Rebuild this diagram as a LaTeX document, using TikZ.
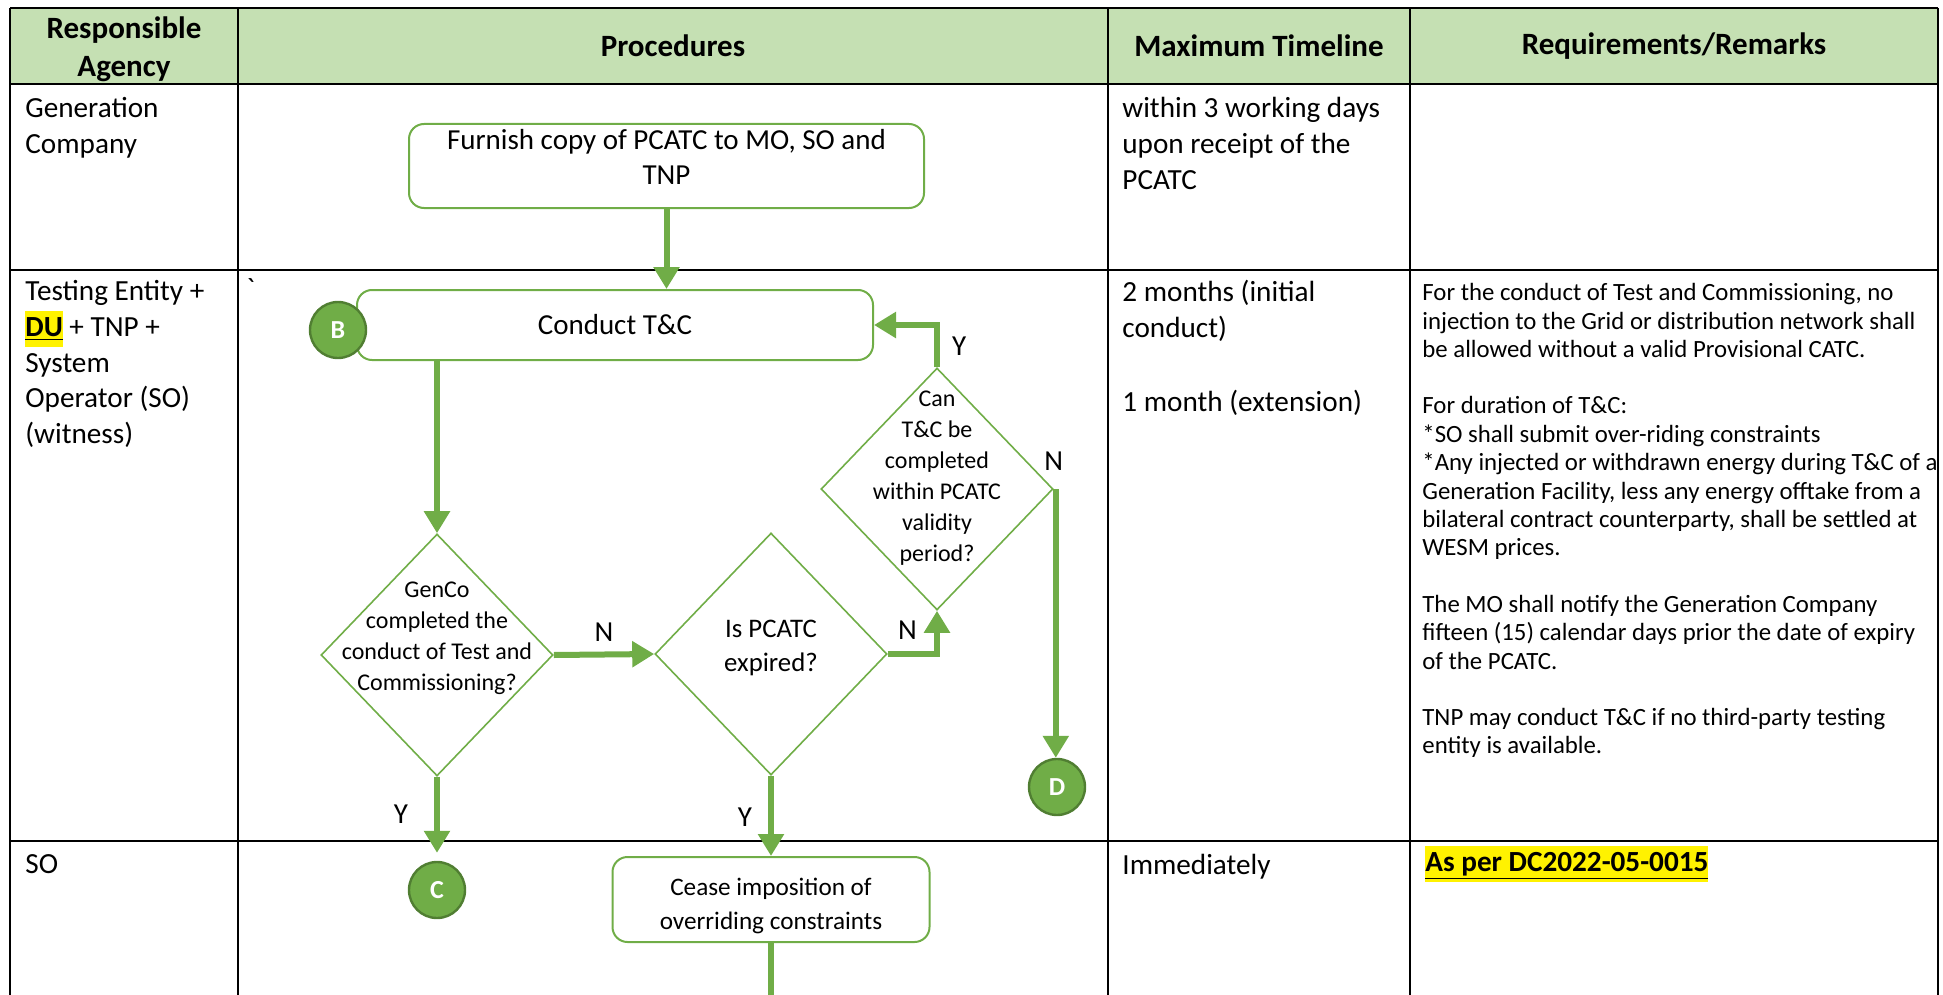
\documentclass[tikz,border=0pt]{standalone}
\usepackage{fontspec}
\setmainfont{Carlito}
\usetikzlibrary{arrows.meta,shapes.geometric,positioning}
\definecolor{vert}{HTML}{70AD47}
\definecolor{vertfonce}{HTML}{507E32}
\definecolor{vertclair}{HTML}{C5E0B3}
\newcommand{\surligne}[1]{{\setlength{\fboxsep}{0pt}\colorbox{yellow}{\strut#1}}}

\begin{document}
\begin{tikzpicture}[x=0.5pt,y=-0.5pt]
\tikzset{boite/.style={draw=vert, line width=1pt, rounded corners=7.5pt, inner sep=0pt, align=center, font=\fontsize{14.5}{17.5}\selectfont},
losange/.style={draw=vert, line width=0.8pt, diamond, inner sep=0pt, minimum width=116pt, minimum height=121pt},
ltexte/.style={inner sep=0pt, align=center, font=\fontsize{12}{15.5}\selectfont},
rond/.style={circle, fill=vert, draw=vertfonce, line width=1.2pt, minimum size=28pt, inner sep=0pt, text=white, font=\fontsize{13}{13}\selectfont\bfseries},
fleche/.style={draw=vert, line width=3pt, -{Triangle[width=12.5pt,length=11pt]}},
lettre/.style={inner sep=0pt, font=\fontsize{14.5}{17}\selectfont},
entete/.style={inner sep=0pt, align=center, font=\fontsize{15.5}{19}\selectfont\bfseries},
texte/.style={anchor=north west, inner sep=0pt, align=left, font=\fontsize{14.6}{17.9}\selectfont},
remarque/.style={anchor=north west, inner sep=0pt, align=left, font=\fontsize{12.4}{14.2}\selectfont}}
\useasboundingbox (0,0) rectangle (1943,995);
\fill[vertclair] (10,8) rectangle (1938,84);
\foreach \y in {8,84,270,841} \draw[line width=1.2pt] (10,\y) -- (1938,\y);
\foreach \x in {10,238,1108,1410,1938} \draw[line width=1.2pt] (\x,8) -- (\x,1000);
\node[entete] (h1) at (124,49) {Responsible\\Agency};
\node[entete] (h2) at (673,46) {Procedures};
\node[entete] (h3) at (1259,46) {Maximum Timeline};
\node[entete] (h4) at (1674,46) {Requirements/Remarks};
\node[texte] (ag1) at (25,97) {Generation\\Company};
\node[texte] (ag2) at (25,280) {Testing Entity +\\\surligne{\textbf{\underline{DU}}} + TNP +\\System\\Operator (SO)\\(witness)};
\node[texte] (ag3) at (25,854) {SO};
\node[texte] (accent) at (246,278) {\textasciigrave};
\node[texte] (delai1) at (1122,97) {within 3 working days\\upon receipt of the\\PCATC};
\node[texte] (delai2) at (1122,280) {2 months (initial\\conduct)\\[19pt]1 month (extension)};
\node[texte] (delai3) at (1122,854) {Immediately};
\node[remarque] (rem2) at (1422,283) {For the conduct of Test and Commissioning, no\\injection to the Grid or distribution network shall\\be allowed without a valid Provisional CATC.\\[14pt]For duration of T\&C:\\*SO shall submit over-riding constraints\\*Any injected or withdrawn energy during T\&C of a\\Generation Facility, less any energy offtake from a\\bilateral contract counterparty, shall be settled at\\WESM prices.\\[14pt]The MO shall notify the Generation Company\\fifteen (15) calendar days prior the date of expiry\\of the PCATC.\\[14pt]TNP may conduct T\&C if no third-party testing\\entity is available.};
\node[texte, font=\fontsize{14.6}{17.9}\selectfont] (rem3) at (1425,846) {\surligne{\textbf{\underline{As per DC2022-05-0015}}}};
\node[boite, minimum width=257.5pt, minimum height=42pt, text depth=9pt] (furnish) at (666.5,166) {Furnish copy of PCATC to MO, SO and\\TNP};
\node[boite, minimum width=258pt, minimum height=35pt] (conduct) at (615,325) {Conduct T\&C};
\node[rond] (brond) at (338,330) {B};
\node[losange] (d1) at (437,655) {};
\node[ltexte] (t1) at (437,638) {GenCo\\completed the\\conduct of Test and\\Commissioning?};
\node[losange] (d2) at (771,654) {};
\node[ltexte, font=\fontsize{13.4}{17}\selectfont] (t2) at (771,648) {Is PCATC\\expired?};
\node[losange] (d3) at (937,489) {};
\node[ltexte] (t3) at (937,478) {Can\\T\&C be\\completed\\within PCATC\\validity\\period?};
\node[rond] (crond) at (437,890) {C};
\node[rond] (drond) at (1057,787) {D};
\node[boite, minimum width=158.5pt, minimum height=42.5pt] (cease) at (771,899.5) {};
\node[ltexte, font=\fontsize{12.6}{17}\selectfont] (ceaset) at (771,906) {Cease imposition of\\overriding constraints};
\coordinate (sortie) at (771,1000);
\draw[fleche] (furnish.south) -- (furnish.south |- conduct.north);
\draw[fleche] (conduct.south -| d1.north) -- (d1.north);
\draw[fleche] (d1.east) -- node[lettre, above=5pt] (n1) {N} (d2.west);
\draw[fleche] (d2.east) -| node[lettre, pos=0.2, above=6pt] (n2) {N} (d3.south);
\draw[fleche] (d3.north) |- node[lettre, pos=0.25, right=6pt] (y3) {Y} (conduct.east);
\draw[fleche] ([xshift=1pt]d3.east) -- ([xshift=1pt]d3.east |- drond.north);
\node[lettre, above=9pt] (n3) at (d3.east) {N};
\draw[fleche, shorten >=4pt] (d1.south) -- node[lettre, pos=0.45, left=13pt] (y1) {Y} (crond.north);
\draw[fleche] (d2.south) -- node[lettre, pos=0.52, left=8pt] (y2) {Y} (d2.south |- cease.north);
\draw[vert, line width=3pt] (cease.south) -- (sortie);
\end{tikzpicture}
\end{document}
